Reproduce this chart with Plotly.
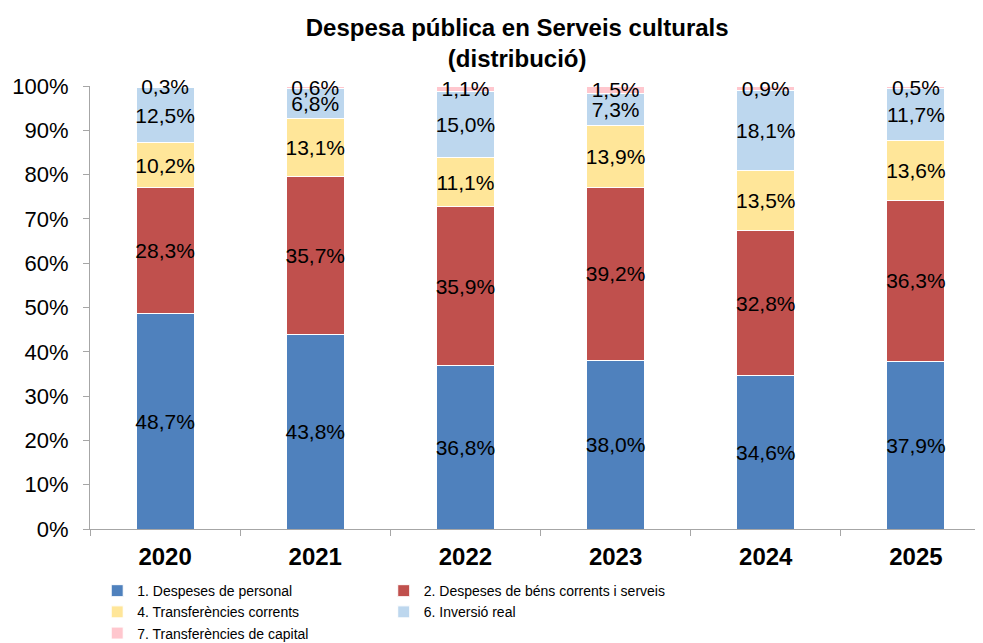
import plotly.graph_objects as go

years = ["2020", "2021", "2022", "2023", "2024", "2025"]
personal = [48.7, 43.8, 36.8, 38.0, 34.6, 37.9]
bens = [28.3, 35.7, 35.9, 39.2, 32.8, 36.3]
transf_corrents = [10.2, 13.1, 11.1, 13.9, 13.5, 13.6]
inversio = [12.5, 6.8, 15.0, 7.3, 18.1, 11.7]
transf_capital = [0.3, 0.6, 1.1, 1.5, 0.9, 0.5]

series = [
    ("1. Despeses de personal", personal, "#4F81BD", "legend"),
    ("2. Despeses de béns corrents i serveis", bens, "#C0504D", "legend2"),
    ("4. Transferències corrents", transf_corrents, "#FFE699", "legend"),
    ("6. Inversió real", inversio, "#BDD7EE", "legend2"),
    ("7. Transferències de capital", transf_capital, "#FFC7CE", "legend"),
]

FONT = "Liberation Sans, Arial, sans-serif"
LEGFONT = "Liberation Sans Narrow, Arial Narrow, Liberation Sans, Arial, sans-serif"

fig = go.Figure()
for name, vals, color, leg in series:
    fig.add_trace(go.Bar(
        x=years,
        y=[v / 100 for v in vals],
        name=name,
        legend=leg,
        marker=dict(color=color, line=dict(color="white", width=1)),
        text=[f"{v:.1f}".replace(".", ",") + "%" for v in vals],
        textposition="inside",
        insidetextanchor="middle",
        textangle=0,
        constraintext="none",
        textfont=dict(family=FONT, size=21, color="black"),
        cliponaxis=False,
        hoverinfo="skip",
    ))

fig.update_layout(
    width=983, height=643,
    barmode="stack",
    bargap=0.613,
    plot_bgcolor="white",
    paper_bgcolor="white",
    margin=dict(l=82, r=0, t=78, b=122, autoexpand=False),
    font=dict(family=FONT, color="black"),
    title=dict(
        text="<b>Despesa pública en Serveis culturals<br>(distribució)</b>",
        x=0.518, xanchor="center", y=0.957, yanchor="top",
        font=dict(family=FONT, size=24, color="black"),
    ),
    xaxis=dict(
        range=[-0.5, 5.5],
        showline=True, linecolor="#A6A6A6", linewidth=1,
        ticks="outside", tickson="boundaries", ticklen=6, tickcolor="#A6A6A6",
        tickfont=dict(family=FONT, size=24, color="black", weight="bold"),
        ticklabelstandoff=6,
        showgrid=False,
    ),
    yaxis=dict(
        range=[0, 1], dtick=0.1, tickformat=".0%",
        showline=True, linecolor="#A6A6A6", linewidth=1,
        ticks="outside", ticklen=6, tickcolor="#A6A6A6",
        tickfont=dict(family=FONT, size=22, color="black"),
        ticklabelstandoff=10,
        showgrid=False, zeroline=False,
    ),
    legend=dict(
        x=0.008, xanchor="left", y=-0.104, yanchor="top",
        orientation="v", tracegroupgap=0, traceorder="normal",
        font=dict(family=LEGFONT, size=14, color="black"),
        bgcolor="rgba(0,0,0,0)", itemclick=False, itemdoubleclick=False,
    ),
    legend2=dict(
        x=0.326, xanchor="left", y=-0.104, yanchor="top",
        orientation="v", tracegroupgap=0, traceorder="normal",
        font=dict(family=LEGFONT, size=14, color="black"),
        bgcolor="rgba(0,0,0,0)", itemclick=False, itemdoubleclick=False,
    ),
)

fig.write_html("out.html")
